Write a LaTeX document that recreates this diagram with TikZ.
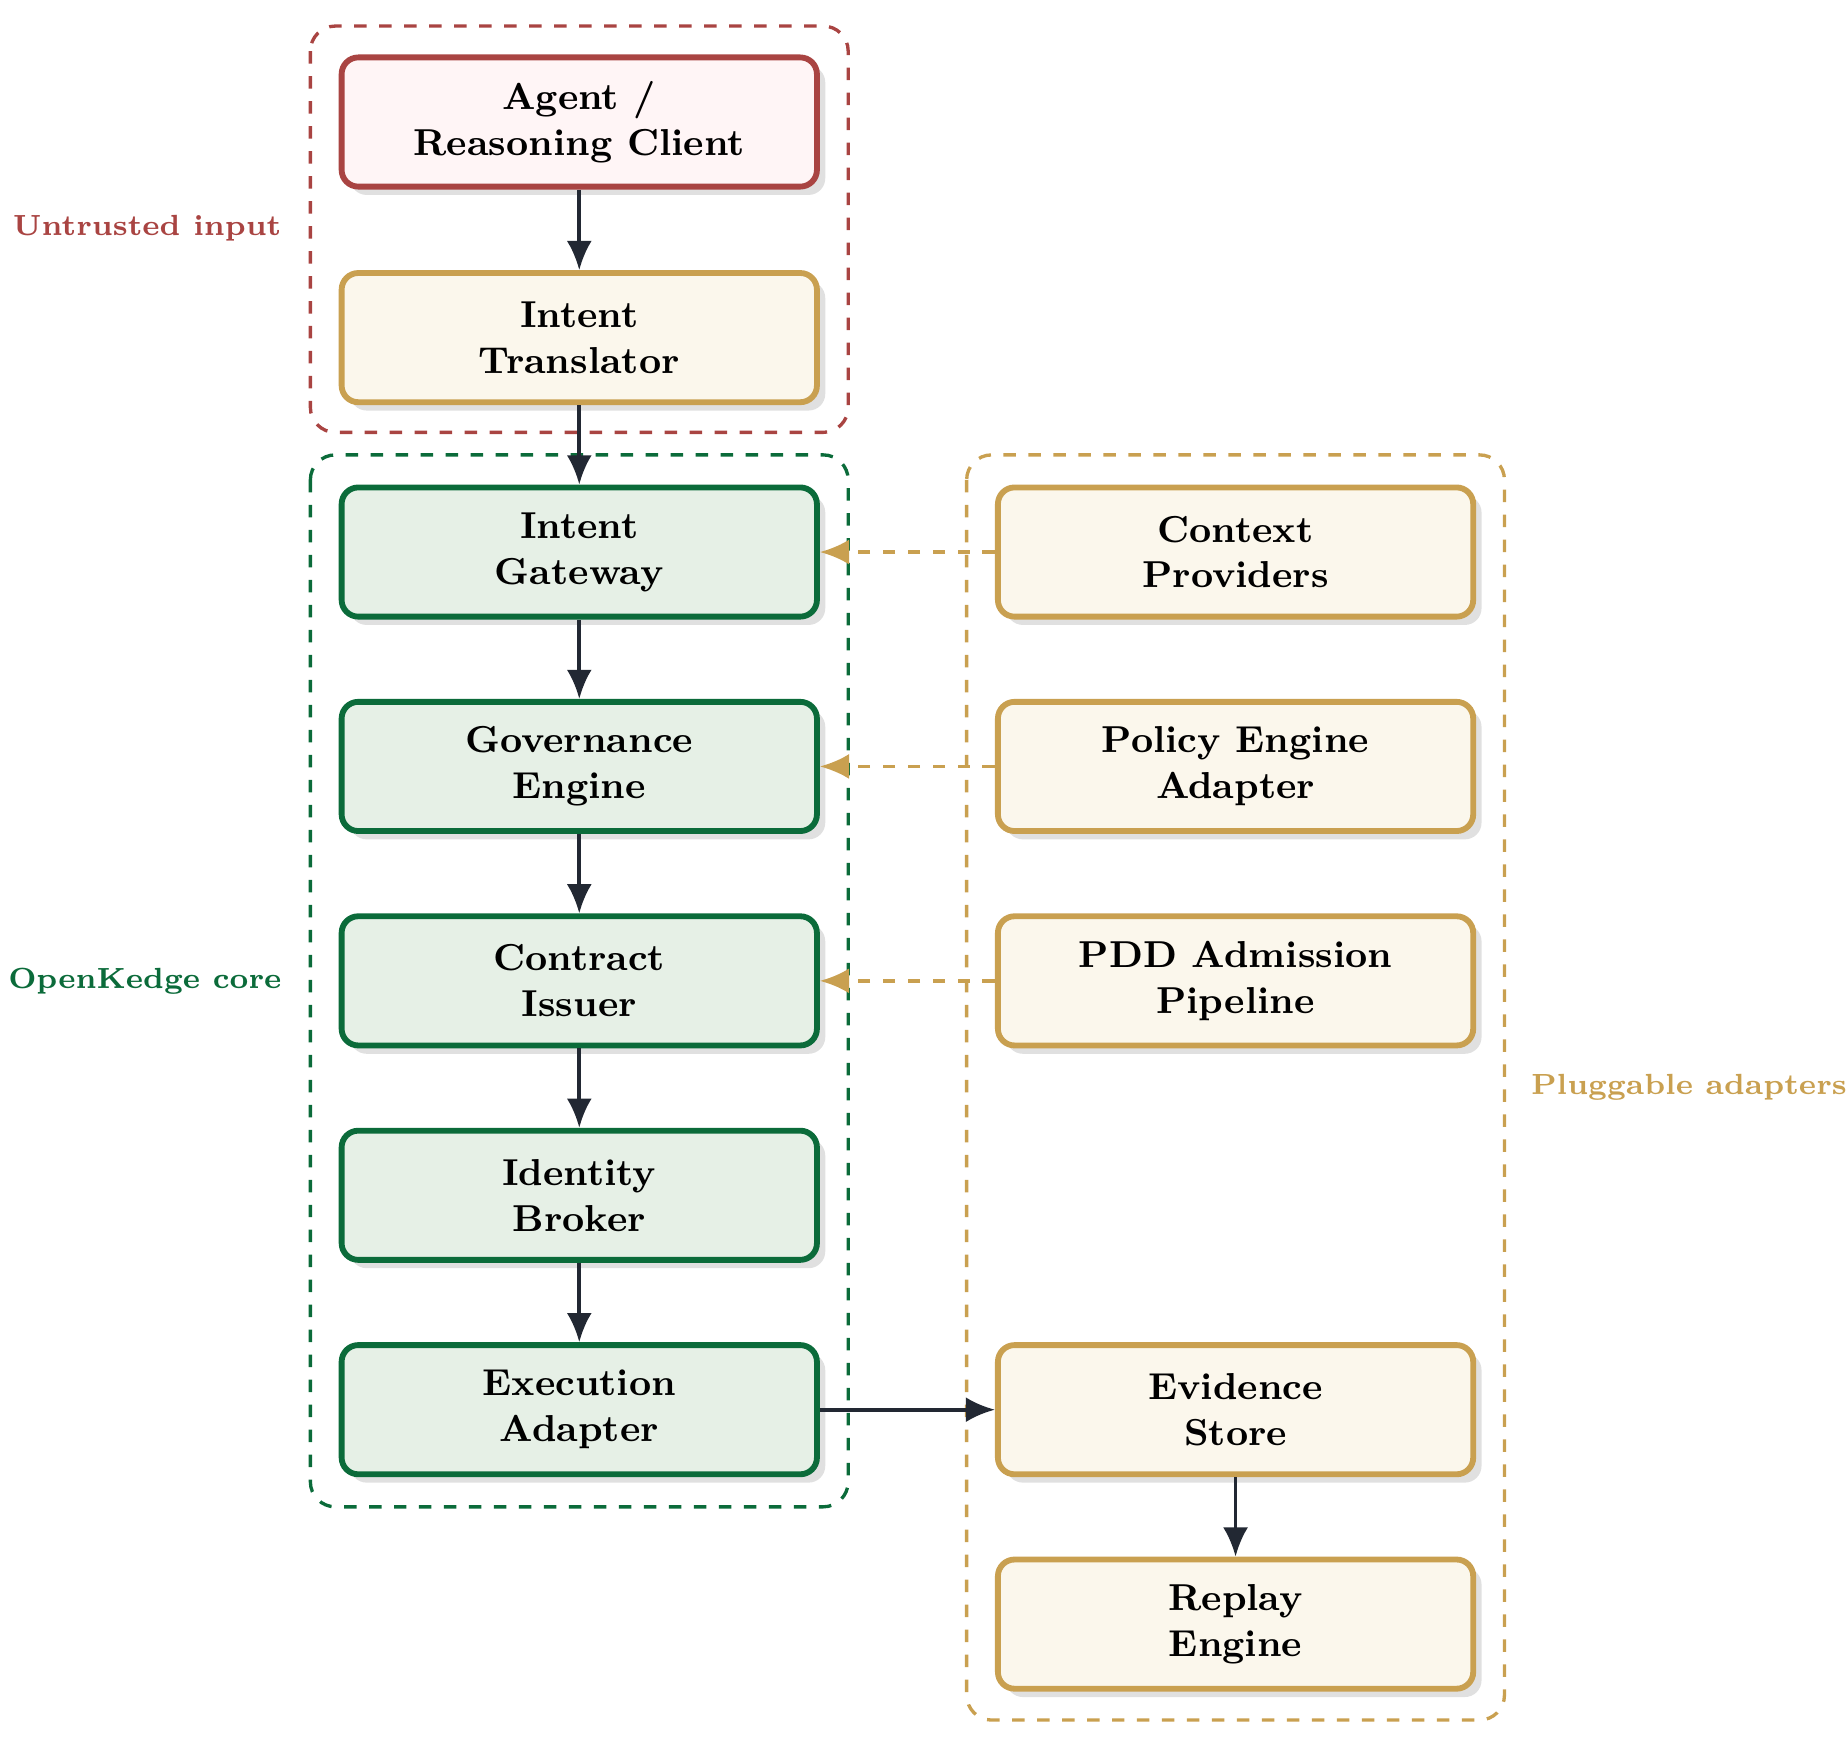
\documentclass[tikz,border=0pt]{standalone}
\usetikzlibrary{arrows.meta,shadows}
\definecolor{rd}{HTML}{A94442}\definecolor{rdf}{HTML}{FFF5F6}
\definecolor{gd}{HTML}{C9A050}\definecolor{gdf}{HTML}{FBF7EC}
\definecolor{gn}{HTML}{0B6B3A}\definecolor{gnf}{HTML}{E6F0E6}
\definecolor{ar}{HTML}{222833}
\begin{document}
\begin{tikzpicture}[x=0.01cm,y=-0.01cm,
 box/.style={draw,rounded corners=4pt,line width=1.4pt,minimum width=4.01cm,minimum height=1.09cm,align=center,font=\small\bfseries,drop shadow={shadow xshift=2pt,shadow yshift=-2pt,fill=black!12,opacity=1}},
 rb/.style={box,draw=rd,fill=rdf},gb/.style={box,draw=gd,fill=gdf},nb/.style={box,draw=gn,fill=gnf},
 grp/.style={draw,dashed,rounded corners=6pt,line width=0.8pt},
 arr/.style={draw=ar,line width=0.9pt,-{Latex[length=7pt,width=6pt]}},
 darr/.style={draw=gd,dashed,line width=0.9pt,-{Latex[length=7pt,width=6pt]}},
 lab/.style={font=\scriptsize\bfseries}]
\useasboundingbox (0,0) rectangle (1560,1467);
\draw[grp,rd] (262,22) rectangle (716,365);
\draw[grp,gn] (262,384) rectangle (716,1272);
\draw[grp,gd] (816,384) rectangle (1270,1452);
\node[lab,text=rd,anchor=east] (l1) at (250,193) {Untrusted input};
\node[lab,text=gn,anchor=east] (l2) at (250,828) {OpenKedge core};
\node[lab,text=gd,anchor=west] (l3) at (1280,918) {Pluggable adapters};
\node[rb] (a) at (489,103) {Agent /\\Reasoning Client};
\node[gb] (t) at (489,285) {Intent\\Translator};
\node[nb] (g) at (489,466) {Intent\\Gateway};
\node[nb] (ge) at (489,647) {Governance\\Engine};
\node[nb] (c) at (489,828) {Contract\\Issuer};
\node[nb] (i) at (489,1009) {Identity\\Broker};
\node[nb] (e) at (489,1190) {Execution\\Adapter};
\node[gb] (cp) at (1043,466) {Context\\Providers};
\node[gb] (p) at (1043,647) {Policy Engine\\Adapter};
\node[gb] (pd) at (1043,828) {PDD Admission\\Pipeline};
\node[gb] (ev) at (1043,1190) {Evidence\\Store};
\node[gb] (r) at (1043,1371) {Replay\\Engine};
\draw[arr] (a)--(t); \draw[arr] (t)--(g); \draw[arr] (g)--(ge); \draw[arr] (ge)--(c);
\draw[arr] (c)--(i); \draw[arr] (i)--(e); \draw[arr] (e)--(ev); \draw[arr] (ev)--(r);
\draw[darr] (cp)--(g); \draw[darr] (p)--(ge); \draw[darr] (pd)--(c);
\end{tikzpicture}
\end{document}
